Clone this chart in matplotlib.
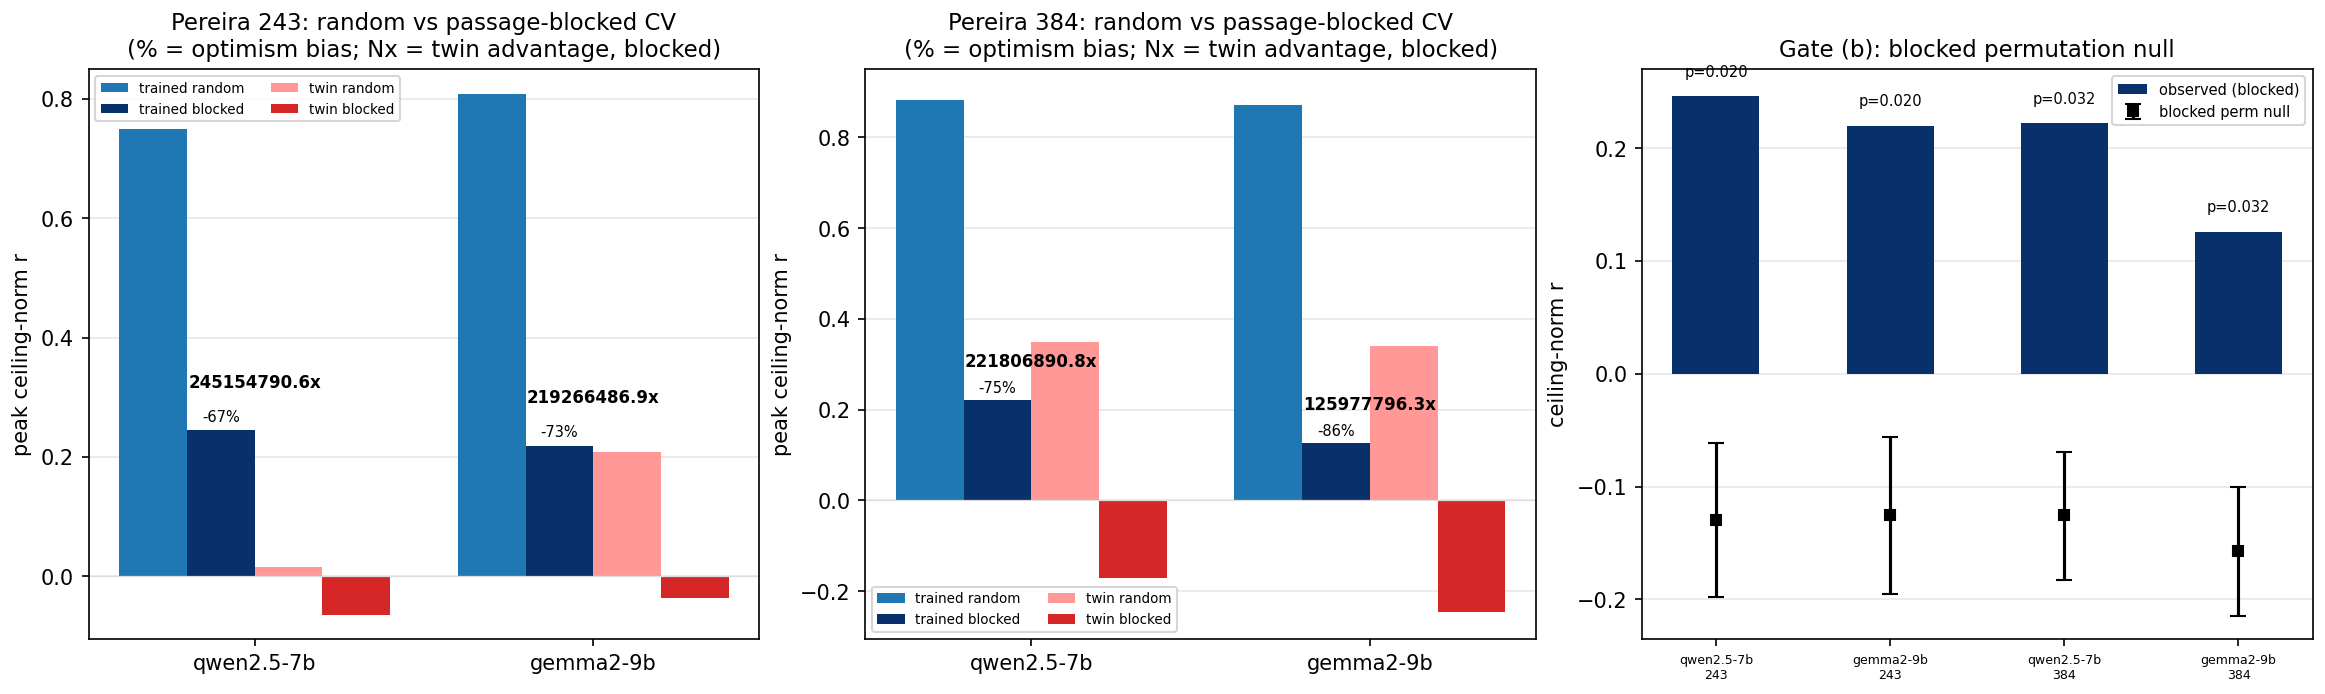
import matplotlib
matplotlib.use("Agg")
import matplotlib.pyplot as plt
import numpy as np

models = ['qwen2.5-7b', 'gemma2-9b']

# Pereira 243
p243_tr_rand = [0.750, 0.808]
p243_tr_blk = [0.245, 0.219]
p243_tw_rand = [0.015, 0.209]
p243_tw_blk = [-0.065, -0.036]
p243_adv = ['245154790.6x', '219266486.9x']
p243_bias = ['-67%', '-73%']

# Pereira 384
p384_tr_rand = [0.882, 0.872]
p384_tr_blk = [0.222, 0.126]
p384_tw_rand = [0.350, 0.340]
p384_tw_blk = [-0.170, -0.245]
p384_adv = ['221806890.8x', '125977796.3x']
p384_bias = ['-75%', '-86%']

# gate (b)
gate_labels = ['qwen2.5-7b\n243', 'gemma2-9b\n243', 'qwen2.5-7b\n384', 'gemma2-9b\n384']
gate_obs = [0.246, 0.220, 0.222, 0.126]
gate_null = [-0.130, -0.125, -0.125, -0.157]
gate_lo = [-0.198, -0.195, -0.183, -0.215]
gate_hi = [-0.061, -0.056, -0.069, -0.100]
gate_p = ['p=0.020', 'p=0.020', 'p=0.032', 'p=0.032']

fig, axes = plt.subplots(1, 3, figsize=(15.5, 4.63), dpi=150)


def plot_cv(ax, tr_r, tr_b, tw_r, tw_b, adv, bias, title, ylim, legend_loc):
    x = np.arange(len(models))
    w = 0.2
    ax.bar(x - 1.5 * w, tr_r, w, color='#1f77b4', label='trained random')
    ax.bar(x - 0.5 * w, tr_b, w, color='#08306b', label='trained blocked')
    ax.bar(x + 0.5 * w, tw_r, w, color='#ff9896', label='twin random')
    ax.bar(x + 1.5 * w, tw_b, w, color='#d62728', label='twin blocked')
    for i in range(len(models)):
        ax.text(x[i] - 0.5 * w, tr_b[i] + 0.01, bias[i], ha='center', va='bottom', fontsize=7)
        ax.text(x[i], tr_b[i] + 0.065, adv[i], ha='center', va='bottom', fontsize=8, fontweight='bold')
    ax.set_xticks(x)
    ax.set_xticklabels(models)
    ax.set_ylabel('peak ceiling-norm r')
    ax.set_title(title, fontsize=11)
    ax.set_ylim(*ylim)
    ax.axhline(0, color='#dddddd', lw=0.6)
    ax.grid(axis='y', alpha=0.3)
    ax.set_axisbelow(True)
    ax.legend(loc=legend_loc, ncol=2, fontsize=6.5)


plot_cv(axes[0], p243_tr_rand, p243_tr_blk, p243_tw_rand, p243_tw_blk, p243_adv, p243_bias,
        'Pereira 243: random vs passage-blocked CV\n(% = optimism bias; Nx = twin advantage, blocked)',
        (-0.105, 0.85), 'upper left')
plot_cv(axes[1], p384_tr_rand, p384_tr_blk, p384_tw_rand, p384_tw_blk, p384_adv, p384_bias,
        'Pereira 384: random vs passage-blocked CV\n(% = optimism bias; Nx = twin advantage, blocked)',
        (-0.305, 0.95), 'lower left')

ax = axes[2]
x = np.arange(len(gate_labels))
ax.bar(x, gate_obs, 0.5, color='#08306b', label='observed (blocked)')
err = [np.array(gate_null) - np.array(gate_lo), np.array(gate_hi) - np.array(gate_null)]
ax.errorbar(x, gate_null, yerr=err, fmt='s', color='black', capsize=4, ms=5, label='blocked perm null')
for i in range(len(x)):
    ax.text(x[i], gate_obs[i] + 0.015, gate_p[i], ha='center', va='bottom', fontsize=7)
ax.set_xticks(x)
ax.set_xticklabels(gate_labels, fontsize=6)
ax.set_ylabel('ceiling-norm r')
ax.set_title('Gate (b): blocked permutation null', fontsize=11)
ax.set_ylim(-0.235, 0.27)
ax.grid(axis='y', alpha=0.3)
ax.set_axisbelow(True)
ax.legend(loc='upper right', fontsize=7)

fig.tight_layout(pad=0.6)
fig.savefig('out.png', dpi=150)
